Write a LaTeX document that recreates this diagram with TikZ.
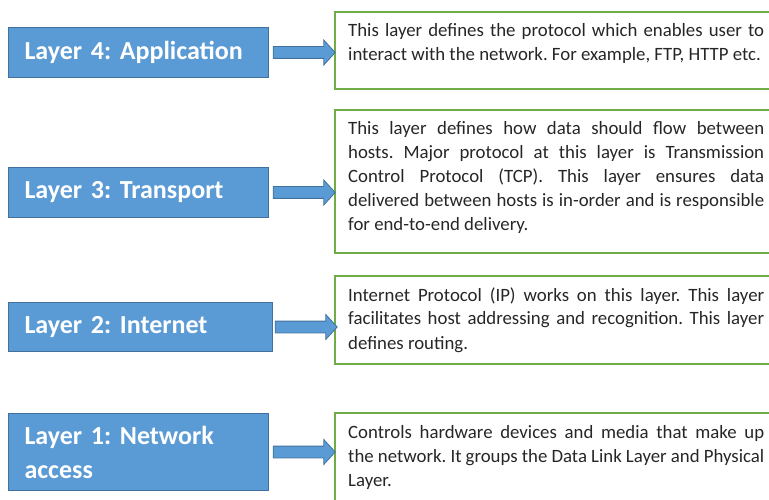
\documentclass[tikz,border=0pt]{standalone}
\usepackage{fontspec}
\setmainfont{Carlito}
\usepackage{tikz}
\usetikzlibrary{shapes.arrows, positioning}
\definecolor{layerblue}{RGB}{91, 155, 213}
\definecolor{layeredge}{RGB}{65, 113, 156}
\definecolor{descgreen}{RGB}{112, 173, 71}
\definecolor{descink}{RGB}{38, 38, 38}
\frenchspacing
\hyphenpenalty=10000
\exhyphenpenalty=10000

\begin{document}
\begin{tikzpicture}[x=1pt, y=-1pt,
  layerbox/.style={draw=layeredge, line width=1pt, fill=layerblue, anchor=north west,
      text=white, font=\fontsize{26}{34}\selectfont\bfseries, align=left,
      inner xsep=16pt, inner ysep=0pt, text width=228pt},
  descbox/.style={draw=descgreen, line width=2pt, anchor=north west,
      minimum width=470pt, inner sep=0pt},
  desctext/.style={text width=416pt, align=justify, inner sep=0pt, text=descink,
      font=\fontsize{18.8}{24}\selectfont, execute at begin node=\strut},
  fatarrow/.style={single arrow, draw=layeredge, fill=layerblue, line width=0.8pt,
      minimum height=62pt, single arrow head extend=6.5pt,
      single arrow tip angle=95, inner xsep=0pt, inner ysep=5.5pt}]

\useasboundingbox (0,0) rectangle (769,500);

% Layer 4: Application
\node[layerbox, minimum height=50pt] (l4) at (8,27) {Layer 4: Application};
\node[descbox, minimum height=77pt] (d4) at (334,11) {};
\node[desctext, below right=9pt and 14pt of d4.north west] (t4) {%
  This layer defines the protocol which enables user to interact with the network. For example, FTP, HTTP etc.};

% Layer 3: Transport
\node[layerbox, minimum height=50pt] (l3) at (8,167) {Layer 3: Transport};
\node[descbox, minimum height=143pt] (d3) at (334,109) {};
\node[desctext, below right=9pt and 14pt of d3.north west] (t3) {%
  This layer defines how data should flow between\linebreak hosts. Major protocol at this layer is Transmission\linebreak
  Control Protocol (TCP). This layer ensures data\linebreak delivered between hosts is in-order and is responsible\linebreak
  for end-to-end delivery.};

% Layer 2: Internet
\node[layerbox, minimum height=49pt, text width=232pt] (l2) at (8,302) {Layer 2: Internet};
\node[descbox, minimum height=88pt] (d2) at (334,275) {};
\node[desctext, below right=9pt and 14pt of d2.north west] (t2) {%
  Internet Protocol (IP) works on this layer. This layer facilitates host addressing and recognition. This layer defines routing.};

% Layer 1: Network access
\node[layerbox, minimum height=77pt] (l1) at (8,413) {Layer 1: Network access};
\node[descbox, minimum height=120pt] (d1) at (334,412) {};
\node[desctext, below right=9pt and 14pt of d1.north west] (t1) {%
  Controls hardware devices and media that make up the network. It groups the Data Link Layer and Physical Layer.};

% block arrows from layer to description
\foreach \n in {4,3,2,1}
  \path (l\n.east) -- (l\n.east -| d\n.west) node[midway, fatarrow] (a\n) {};

\end{tikzpicture}
\end{document}
